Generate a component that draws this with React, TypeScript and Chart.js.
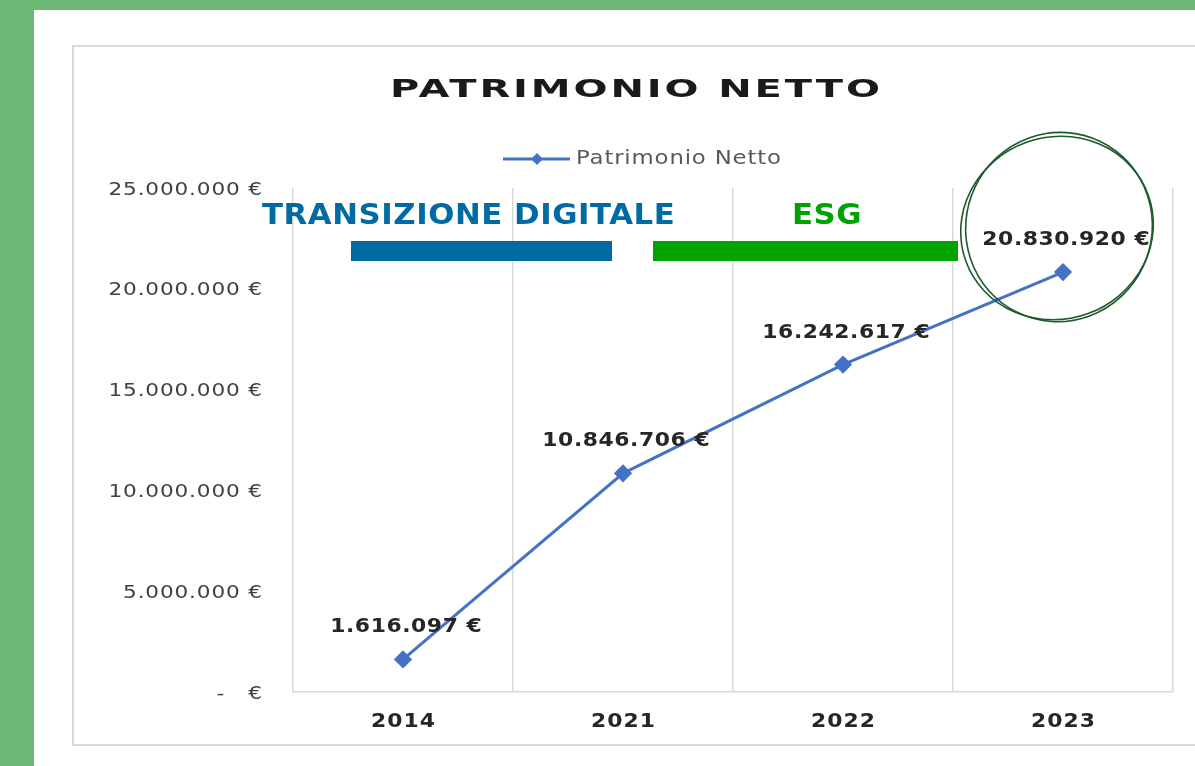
import React, { useEffect, useRef } from 'react';
import { Chart, registerables } from 'chart.js';

Chart.register(...registerables);

// ---- data ----
const categories = ['2014', '2021', '2022', '2023'];
const seriesName = 'Patrimonio Netto';
const seriesValues = [1616097, 10846706, 16242617, 20830920];
const yTickValues = [0, 5000000, 10000000, 15000000, 20000000, 25000000];
const chartTitle = 'PATRIMONIO NETTO';
const bandLabels = ['TRANSIZIONE DIGITALE', 'ESG'];

const FONT = 'DejaVu Sans';
const LINE_BLUE = '#4472C4';

const fmt = (v: number) => String(Math.round(v)).replace(/\B(?=(\d{3})+(?!\d))/g, '.');
const yLabel = (v: number) => (v === 0 ? '-   €' : fmt(v) + ' €');

function drawText(
  ctx: CanvasRenderingContext2D,
  s: string,
  x: number,
  y: number,
  font: string,
  color: string,
  spacing = 0,
  align: 'left' | 'center' | 'right' = 'left',
  sx = 1
) {
  ctx.save();
  ctx.font = font;
  ctx.fillStyle = color;
  (ctx as any).letterSpacing = spacing + 'px';
  ctx.textBaseline = 'alphabetic';
  ctx.textAlign = 'left';
  const w = (ctx.measureText(s).width - spacing) * sx;
  const left = align === 'center' ? x - w / 2 : align === 'right' ? x - w : x;
  ctx.translate(left, y);
  ctx.scale(sx, 1);
  ctx.fillText(s, 0, 0);
  ctx.restore();
}

const decorPlugin = {
  id: 'decor',
  beforeDraw(chart: any) {
    const ctx: CanvasRenderingContext2D = chart.ctx;
    const W = chart.width;
    const H = chart.height;
    ctx.save();
    ctx.fillStyle = '#6BB975';
    ctx.fillRect(0, 0, W, H);
    ctx.fillStyle = '#ffffff';
    ctx.fillRect(34, 10, W - 34, H - 10);
    ctx.strokeStyle = '#d9d9d9';
    ctx.lineWidth = 2;
    ctx.strokeRect(73, 46, W - 73 + 10, 745 - 46);
    ctx.restore();
  },
  afterDraw(chart: any) {
    const ctx: CanvasRenderingContext2D = chart.ctx;
    const meta = chart.getDatasetMeta(0);
    const xs = chart.scales.x;
    const ys = chart.scales.y;

    // y tick labels (from the library's y scale)
    ys.ticks.forEach((t: any) => {
      const py = ys.getPixelForValue(t.value);
      drawText(ctx, yLabel(Number(t.value)), 262, py + 6.5, `18px "${FONT}"`, '#404040', 0.7, 'right', 1.2);
    });

    // x tick labels (from the library's category scale)
    xs.ticks.forEach((t: any, i: number) => {
      const px = xs.getPixelForTick(i);
      drawText(ctx, String(xs.getLabelForValue(t.value)), px, 727, `bold 19px "${FONT}"`, '#262626', 0.9, 'center', 1.15);
    });

    // title
    drawText(ctx, chartTitle, 635, 97, `bold 25px "${FONT}"`, '#1a1a1a', 1.8, 'center', 1.6);

    // legend
    ctx.save();
    ctx.strokeStyle = LINE_BLUE;
    ctx.lineWidth = 3;
    ctx.beginPath();
    ctx.moveTo(503, 159);
    ctx.lineTo(570, 159);
    ctx.stroke();
    ctx.fillStyle = LINE_BLUE;
    ctx.beginPath();
    ctx.moveTo(537, 153);
    ctx.lineTo(543, 159);
    ctx.lineTo(537, 165);
    ctx.lineTo(531, 159);
    ctx.closePath();
    ctx.fill();
    ctx.restore();
    drawText(ctx, seriesName, 576, 164, `19px "${FONT}"`, '#595959', 0.7, 'left', 1.2);

    // band annotations
    drawText(ctx, bandLabels[0], 262, 224, `bold 28px "${FONT}"`, '#006AA3', 0.5, 'left', 1.1);
    drawText(ctx, bandLabels[1], 792, 224, `bold 28px "${FONT}"`, '#00A300', 0.5, 'left', 1.1);
    ctx.save();
    ctx.fillStyle = '#006AA3';
    ctx.fillRect(351, 241, 261, 20);
    ctx.fillStyle = '#00A300';
    ctx.fillRect(653, 241, 305, 20);
    ctx.restore();

    // data labels
    meta.data.forEach((pt: any, i: number) => {
      drawText(ctx, fmt(seriesValues[i]) + ' €', pt.x + 3, pt.y - 27, `bold 19px "${FONT}"`, '#262626', 0.5, 'center', 1.15);
    });

    // hand-drawn circle around the last value
    const last = meta.data[meta.data.length - 1];
    const cx = last.x - 6;
    const cy = last.y - 44;
    ctx.save();
    ctx.strokeStyle = '#1E5A2E';
    ctx.lineWidth = 1.6;
    ctx.beginPath();
    ctx.ellipse(cx, cy, 97, 91, -0.35, 0, Math.PI * 2);
    ctx.stroke();
    ctx.beginPath();
    ctx.ellipse(cx + 2, cy - 1, 93, 95, 0.45, 0, Math.PI * 2);
    ctx.stroke();
    ctx.restore();
  },
};

export default function App() {
  const ref = useRef<HTMLCanvasElement>(null);
  useEffect(() => {
    document.body.style.margin = '0';
    const chart = new Chart(ref.current!, {
      type: 'line',
      data: {
        labels: categories,
        datasets: [
          {
            label: seriesName,
            data: seriesValues,
            borderColor: LINE_BLUE,
            backgroundColor: LINE_BLUE,
            borderWidth: 3,
            pointStyle: 'rectRot',
            pointRadius: 7,
            pointBackgroundColor: LINE_BLUE,
            pointBorderColor: LINE_BLUE,
            tension: 0,
            clip: false as any,
          },
        ],
      },
      options: {
        animation: false,
        responsive: false,
        devicePixelRatio: 1,
        layout: { padding: { top: 188, right: 22, left: 0, bottom: 0 } },
        plugins: {
          legend: { display: false },
          title: { display: false },
          tooltip: { enabled: false },
        },
        scales: {
          x: {
            type: 'category',
            offset: true,
            grid: { display: true, offset: true, color: '#d9d9d9', lineWidth: 1.5, drawTicks: false },
            border: { display: true, color: '#d9d9d9', width: 1.5 },
            ticks: { display: false },
            afterFit: (s: any) => {
              s.height = 74;
            },
          },
          y: {
            min: yTickValues[0],
            max: yTickValues[yTickValues.length - 1],
            grid: { display: false, drawTicks: false },
            border: { display: false },
            ticks: {
              display: false,
              stepSize: yTickValues[1] - yTickValues[0],
              callback: (v: any) => yLabel(Number(v)),
            },
            afterFit: (s: any) => {
              s.width = 293;
            },
          },
        },
      },
      plugins: [decorPlugin],
    });
    return () => chart.destroy();
  }, []);
  return (
    <div style={{ position: 'fixed', left: 0, top: 0, width: 1195, height: 766 }}>
      <canvas ref={ref} width={1195} height={766} style={{ display: 'block', width: 1195, height: 766 }} />
    </div>
  );
}
